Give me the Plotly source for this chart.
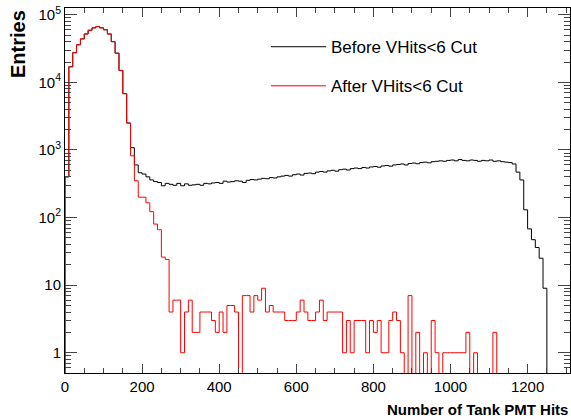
import plotly.graph_objects as go

BIN = 10
# counts per 10-hit bin, starting at 0
before_hits = [
    400, 17000, 27500, 36000, 44000, 52000, 59000, 64000, 67000, 64000,
    60000, 52000, 40000, 27000, 15000, 6800, 2500, 1080, 600, 460,
    440, 400, 360, 340, 330, 295, 320,
    310, 300, 320, 295, 315, 300, 305, 310, 300, 320,
    315, 325, 330, 320, 345, 335, 340, 350, 345, 330,
    355, 365, 360, 370, 380, 375, 390, 385, 400, 410,
    420, 410, 430, 440, 425, 450, 455, 445, 470, 480,
    470, 490, 500, 485, 510, 520, 505, 530, 540, 530,
    550, 540, 560, 570, 555, 580, 590, 575, 600, 610,
    620, 600, 630, 640, 625, 650, 660, 645, 670, 680,
    690, 680, 700, 710, 690, 720, 700, 690, 710, 700,
    680, 700, 690, 710, 680, 690, 670, 660, 650, 620,
    470, 360, 130, 68, 47, 36, 25, 9,
]
after_hits = [
    400, 17000, 27500, 36000, 44000, 52000, 59000, 64000, 67000, 64000,
    60000, 52000, 40000, 27000, 15000, 6800, 2500, 820, 350, 200,
    200, 165, 122, 80, 66, 26, 24,
    4, 6, 6, 1, 4, 6, 2, 2, 4, 4,
    4, 3, 2, 4, 2, 5, 5, 4, 0, 7,
    7, 4, 7, 6, 9, 4, 5, 4, 4, 4,
    3, 3, 3, 4, 6, 4, 3, 3, 4, 6,
    3, 4, 4, 4, 4, 1, 3, 1, 3, 3,
    3, 1, 3, 2, 3, 1, 1, 3, 4, 3,
    1, 0, 7, 0, 2, 0, 1, 0, 3, 1,
    0, 1, 1, 1, 1, 1, 1, 2, 0, 1,
    0, 0, 0, 0, 2, 0, 0, 0, 0, 0,
    0, 0, 0, 0, 0, 0, 0, 0,
]


def steps(counts):
    # bin edges + repeat last value so 'hv' draws the last bin; empty bins go below the axis
    ys = [c if c > 0 else 0.3 for c in counts]
    xs = [i * BIN for i in range(len(counts) + 1)]
    return [0] + xs, [0.3] + ys + [0.3]


fig = go.Figure()
x, y = steps(before_hits)
fig.add_trace(go.Scatter(x=x, y=y[:len(x)], mode="lines", line=dict(color="black", width=1, shape="hv"),
                         name="Before VHits<6 Cut", legendgroup="before"))
x, y = steps(after_hits)
fig.add_trace(go.Scatter(x=x, y=y[:len(x)], mode="lines", line=dict(color="red", width=1, shape="hv"),
                         name="After VHits<6 Cut", legendgroup="after"))

font = "Liberation Sans, Arial, sans-serif"
fig.update_layout(
    width=571, height=420,
    margin=dict(l=65, r=1, t=8, b=47),
    plot_bgcolor="white", paper_bgcolor="white",
    font=dict(family=font, size=15, color="black"),
    legend=dict(x=0.398, y=0.942, xanchor="left", yanchor="top", bgcolor="rgba(0,0,0,0)",
                font=dict(size=17), itemwidth=55, tracegroupgap=14, traceorder="grouped"),
    showlegend=True,
)
fig.update_xaxes(
    range=[0, 1310], tickvals=[0, 200, 400, 600, 800, 1000, 1200],
    ticks="inside", ticklen=9, mirror="ticks", showline=True, linecolor="black", linewidth=1,
    showgrid=False, zeroline=False, automargin=False,
    minor=dict(ticks="inside", ticklen=5, dtick=50, showgrid=False),
)
fig.update_yaxes(
    type="log", range=[-0.3, 5.1],
    tickvals=[1, 10, 100, 1000, 10000, 100000],
    ticktext=["1", "10", "10<sup>2</sup>", "10<sup>3</sup>", "10<sup>4</sup>", "10<sup>5</sup>"],
    ticks="inside", ticklen=12, mirror="ticks", showline=True, linecolor="black", linewidth=1,
    showgrid=False, zeroline=False, automargin=False,
    minor=dict(ticks="inside", ticklen=6, dtick="D1", showgrid=False),
)
# ROOT-style axis titles: x at right end, y at top
fig.add_annotation(text="<b>Number of Tank PMT Hits</b>", xref="paper", yref="paper", x=1, y=0,
                   yshift=-26, xanchor="right", yanchor="top", showarrow=False, font=dict(size=15))
fig.add_annotation(text="<b>Entries</b>", xref="paper", yref="paper", x=0, y=1, xshift=-47,
                   xanchor="center", yanchor="top", textangle=-90, showarrow=False, font=dict(size=20))

# drop the default body margin so the figure fills the window exactly
fig.write_html("out.html", config={"displayModeBar": False},
               post_script="document.body.style.margin='0';document.body.style.overflow='hidden';")
